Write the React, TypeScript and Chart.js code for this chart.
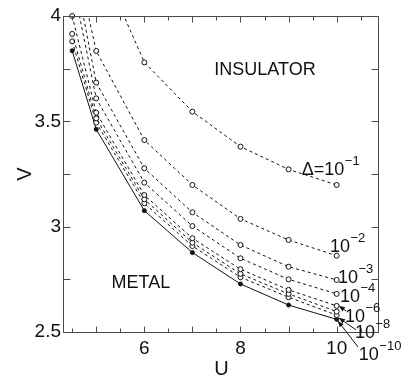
import React, { useEffect, useRef } from 'react';
import { Chart, registerables } from 'chart.js';

Chart.register(...registerables);

// ---- data ----
const U = [4.5, 5, 6, 7, 8, 9, 10];
const vDelta1 = [null, 4.3, 3.78, 3.546, 3.38, 3.272, 3.198];
const vDelta2 = [4.35, 3.834, 3.411, 3.198, 3.037, 2.937, 2.862];
const vDelta3 = [4.27, 3.684, 3.277, 3.068, 2.913, 2.81, 2.747];
const vDelta4 = [4.17, 3.609, 3.209, 3.003, 2.85, 2.75, 2.681];
const vDelta6 = [4.0, 3.541, 3.15, 2.945, 2.798, 2.7, 2.624];
const vDelta8 = [3.915, 3.514, 3.13, 2.924, 2.776, 2.681, 2.597];
const vDelta10 = [3.88, 3.494, 3.111, 2.908, 2.76, 2.665, 2.58];
const vLimit = [3.835, 3.462, 3.076, 2.877, 2.728, 2.628, 2.56];

const xTickValues = [4.5, 5, 5.5, 6, 6.5, 7, 7.5, 8, 8.5, 9, 9.5, 10, 10.5];
const xTickLabels = [6, 8, 10];
const yTickValues = [2.5, 2.75, 3, 3.25, 3.5, 3.75, 4];
const yTickLabels = [2.5, 3, 3.5, 4];

const curveLabels = ['Δ=10', '10', '10', '10', '10', '10', '10'];
const curveExponents = ['−1', '−2', '−3', '−4', '−6', '−8', '−10'];
// label anchor (U, V) for each curve label: left / baseline
const curveLabelU = [9.274, 9.861, 10.027, 10.069, 10.173, 10.38, 10.46];
const curveLabelV = [3.247, 2.88, 2.733, 2.643, 2.548, 2.472, 2.367];

const regionTexts = ['INSULATOR', 'METAL'];
const regionU = [8.51, 5.93];
const regionV = [3.72, 2.708];

// arrows: from (U,V) to (U,V)
const arrowFromU = [10.194, 10.401, 10.443];
const arrowFromV = [2.6, 2.51, 2.429];
const arrowToU = [10.048, 10.048, 10.027];
const arrowToV = [2.624, 2.567, 2.552];

const FONT = '"Liberation Sans", Arial, Helvetica, sans-serif';

function pts(arr: (number | null)[]) {
  return U.map((u, i) => ({ x: u, y: arr[i] }));
}

const framePlugin = {
  id: 'framePlugin',
  afterDraw(chart: any) {
    const { ctx, chartArea: a, scales } = chart;
    const x = scales.x;
    const y = scales.y;
    ctx.save();
    ctx.strokeStyle = '#4a4a4a';
    ctx.lineWidth = 1;
    const L = Math.round(a.left) - 0.5;
    const R = Math.round(a.right) - 0.5;
    const T = Math.round(a.top) + 0.5;
    const B = Math.round(a.bottom) + 0.5;
    ctx.beginPath();
    ctx.rect(L, T, R - L, B - T);
    ctx.stroke();
    ctx.beginPath();
    xTickValues.forEach((v) => {
      const px = Math.round(x.getPixelForValue(v)) + 0.5;
      const len = Number.isInteger(v) ? 6 : 4;
      ctx.moveTo(px, B);
      ctx.lineTo(px, B - len);
      ctx.moveTo(px, T);
      ctx.lineTo(px, T + len);
    });
    yTickValues.forEach((v) => {
      const py = Math.round(y.getPixelForValue(v)) + 0.5;
      ctx.moveTo(L, py);
      ctx.lineTo(L + 7, py);
      ctx.moveTo(R, py);
      ctx.lineTo(R - 7, py);
    });
    ctx.stroke();

    // region texts
    ctx.fillStyle = '#111';
    ctx.font = `18px ${FONT}`;
    ctx.textAlign = 'center';
    ctx.textBaseline = 'alphabetic';
    regionTexts.forEach((t, i) => {
      ctx.fillText(t, x.getPixelForValue(regionU[i]), y.getPixelForValue(regionV[i]));
    });

    // curve labels
    ctx.textAlign = 'left';
    curveLabels.forEach((t, i) => {
      const px = x.getPixelForValue(curveLabelU[i]);
      const py = y.getPixelForValue(curveLabelV[i]);
      ctx.font = `18px ${FONT}`;
      ctx.fillText(t, px, py);
      const w = ctx.measureText(t).width;
      ctx.font = `13px ${FONT}`;
      ctx.fillText(curveExponents[i], px + w + 0.5, py - 10);
    });

    // arrows
    ctx.strokeStyle = '#111';
    ctx.fillStyle = '#111';
    arrowFromU.forEach((_, i) => {
      const x1 = x.getPixelForValue(arrowFromU[i]);
      const y1 = y.getPixelForValue(arrowFromV[i]);
      const x2 = x.getPixelForValue(arrowToU[i]);
      const y2 = y.getPixelForValue(arrowToV[i]);
      const ang = Math.atan2(y2 - y1, x2 - x1);
      ctx.beginPath();
      ctx.moveTo(x1, y1);
      ctx.lineTo(x2, y2);
      ctx.stroke();
      const hl = 6;
      const hw = 2.5;
      ctx.beginPath();
      ctx.moveTo(x2, y2);
      ctx.lineTo(
        x2 - hl * Math.cos(ang) + hw * Math.sin(ang),
        y2 - hl * Math.sin(ang) - hw * Math.cos(ang)
      );
      ctx.lineTo(
        x2 - hl * Math.cos(ang) - hw * Math.sin(ang),
        y2 - hl * Math.sin(ang) + hw * Math.cos(ang)
      );
      ctx.closePath();
      ctx.fill();
    });
    ctx.restore();
  },
};

export default function App() {
  const ref = useRef<HTMLCanvasElement | null>(null);
  useEffect(() => {
    if (!ref.current) return;
    const dashed = (arr: (number | null)[], clip: number) => ({
      data: pts(arr),
      borderColor: '#111',
      borderWidth: 1,
      borderDash: [3, 3],
      pointRadius: 2.5,
      pointBackgroundColor: '#fff',
      pointBorderColor: '#111',
      pointBorderWidth: 1,
      clip,
    });
    const chart = new Chart(ref.current, {
      type: 'line',
      data: {
        datasets: [
          dashed(vDelta1, 0),
          dashed(vDelta2, 0),
          dashed(vDelta3, 0),
          dashed(vDelta4, 0),
          dashed(vDelta6, 4),
          dashed(vDelta8, 4),
          dashed(vDelta10, 4),
          {
            data: pts(vLimit),
            borderColor: '#111',
            borderWidth: 1,
            pointRadius: 2,
            pointBackgroundColor: '#111',
            pointBorderColor: '#111',
            pointBorderWidth: 1,
            clip: 4,
          },
        ] as any,
      },
      options: {
        animation: false,
        responsive: false,
        layout: { padding: { left: 0, top: 16, right: 28, bottom: 0 } },
        plugins: { legend: { display: false }, tooltip: { enabled: false } },
        scales: {
          x: {
            type: 'linear',
            min: 4.33,
            max: 10.88,
            grid: { display: false, drawTicks: false },
            border: { display: false },
            afterBuildTicks: (s: any) => {
              s.ticks = xTickValues.map((v) => ({ value: v }));
            },
            afterFit: (s: any) => {
              s.height = 47;
            },
            ticks: {
              autoSkip: false,
              maxRotation: 0,
              padding: 5,
              color: '#111',
              font: { family: FONT, size: 19 },
              callback: (v: any) => (xTickLabels.includes(Number(v)) ? String(v) : ''),
            },
            title: {
              display: true,
              text: 'U',
              color: '#111',
              font: { family: FONT, size: 20, lineHeight: 1 },
              padding: { top: 0, bottom: 0 },
            },
          },
          y: {
            type: 'linear',
            min: 2.5,
            max: 4,
            grid: { display: false, drawTicks: false },
            border: { display: false },
            afterBuildTicks: (s: any) => {
              s.ticks = yTickValues.map((v) => ({ value: v }));
            },
            afterFit: (s: any) => {
              s.width = 64;
            },
            ticks: {
              autoSkip: false,
              padding: 3,
              color: '#111',
              font: { family: FONT, size: 19 },
              callback: (v: any) => (yTickLabels.includes(Number(v)) ? String(v) : ''),
            },
            title: {
              display: true,
              text: 'V',
              color: '#111',
              font: { family: FONT, size: 20, lineHeight: 1 },
              padding: { top: 15, bottom: 0 },
            },
          },
        },
      },
      plugins: [framePlugin],
    } as any);
    return () => chart.destroy();
  }, []);
  return (
    <div style={{ position: 'fixed', left: 0, top: 0, width: 407, height: 379, background: '#fff' }}>
      <canvas ref={ref} width={407} height={379} style={{ display: 'block' }} />
    </div>
  );
}
